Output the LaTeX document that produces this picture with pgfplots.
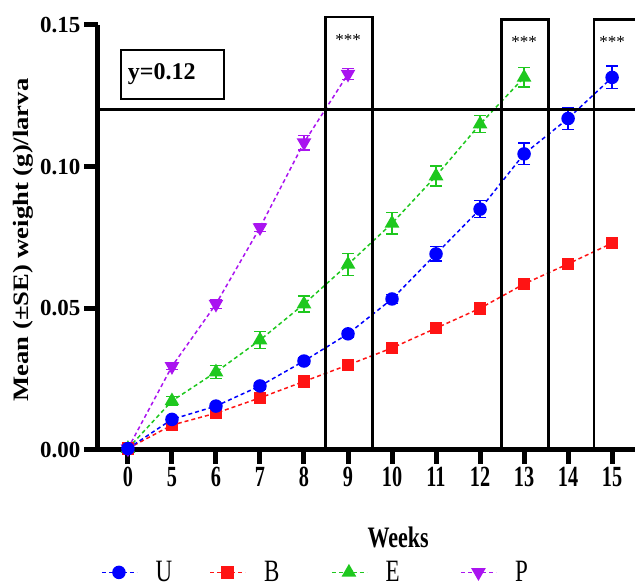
\documentclass[border=0pt]{standalone}
\usepackage{pgfplots}
\pgfplotsset{compat=1.18}
\usepackage{fontspec}
\setmainfont{Liberation Serif}
\usetikzlibrary{calc}

\definecolor{cU}{RGB}{0,0,255}
\definecolor{cB}{RGB}{255,20,20}
\definecolor{cE}{RGB}{30,200,30}
\definecolor{cP}{RGB}{170,20,240}

\newcommand{\xt}[1]{\scalebox{0.92}[1.33]{\textbf{#1}}}
\newcommand{\lt}[2]{\makebox[#1][l]{\scalebox{1}[1.35]{#2}}}

\pgfplotstableread{
x y e
0 0.0005 0.0003
1 0.0108 0.0010
2 0.0155 0.0010
3 0.0226 0.0012
4 0.0314 0.0012
5 0.0410 0.0012
6 0.0533 0.0015
7 0.0692 0.0025
8 0.0850 0.0030
9 0.1045 0.0038
10 0.1170 0.0040
11 0.1315 0.0040
}\dataU
\pgfplotstableread{
x y e
0 0.0005 0.0002
1 0.0088 0.0008
2 0.0130 0.0008
3 0.0184 0.0008
4 0.0242 0.0008
5 0.0300 0.0008
6 0.0360 0.0008
7 0.0430 0.0008
8 0.0500 0.0008
9 0.0586 0.0008
10 0.0657 0.0008
11 0.0730 0.0010
}\dataB
\pgfplotstableread{
x y e
0 0.0005 0.0002
1 0.0173 0.0015
2 0.0275 0.0022
3 0.0388 0.0030
4 0.0515 0.0028
5 0.0655 0.0038
6 0.0800 0.0038
7 0.0967 0.0035
8 0.1150 0.0030
9 0.1315 0.0034
}\dataE
\pgfplotstableread{
x y e
0 0.0005 0.0002
1 0.0295 0.0012
2 0.0515 0.0015
3 0.0785 0.0015
4 0.1085 0.0026
5 0.1327 0.0020
}\dataP

\begin{document}
\begin{tikzpicture}
\begin{axis}[
    width=537pt, height=425pt, scale only axis,
    xmin=-0.68, xmax=11.52, ymin=0, ymax=0.15,
    axis lines=left,
    axis line style={line width=5pt, -},
    clip=false,
    xtick={0,...,11},
    xticklabels={\xt{0},\xt{5},\xt{6},\xt{7},\xt{8},\xt{9},\xt{10},\xt{11},\xt{12},\xt{13},\xt{14},\xt{15}},
    ytick={0,0.05,0.10,0.15},
    yticklabels={\textbf{0.00},\textbf{0.05},\textbf{0.10},\textbf{0.15}},
    tick align=outside,
    major tick length=14pt,
    tick style={line width=5pt, black},
    xticklabel style={font=\fontsize{22}{24}\selectfont},
    yticklabel style={font=\fontsize{23}{26}\selectfont},
    xlabel={\scalebox{1}[1.35]{\textbf{Weeks}}},
    xlabel style={font=\fontsize{22}{24}\selectfont, at={(axis description cs:0.559,-0.205)}, anchor=center},
    ylabel={\scalebox{1.21}[1]{\textbf{Mean (±SE) weight (g)/larva}}},
    ylabel style={font=\fontsize{22}{24}\selectfont, at={(axis description cs:-0.14,0.494)}, anchor=center},
    legend columns=4,
    reverse legend,
    legend style={draw=none, fill=none, font=\fontsize{23}{26}\selectfont,
        at={(axis description cs:0.0,-0.288)}, anchor=west,
        /tikz/every odd column/.append style={column sep=16pt},
        /tikz/every even column/.append style={column sep=10pt}},
    legend image code/.code={\draw[mark repeat=2,mark phase=2,#1] plot coordinates {(0pt,0pt) (17pt,0pt) (35pt,0pt)};},
    every axis plot/.append style={line width=1.5pt, dash pattern=on 4pt off 3pt},
    error bars/error bar style={solid, line width=1.3pt},
    error bars/error mark options={solid, rotate=90, mark size=6pt, line width=1.3pt},
]
\addplot[color=cP, mark=triangle*, mark size=7pt, mark options={solid, rotate=180},
    error bars/.cd, y dir=both, y explicit] table[x=x, y=y, y error=e] {\dataP};
\addlegendentry{\lt{20pt}{P}}
\addplot[color=cE, mark=triangle*, mark size=7pt, mark options={solid},
    error bars/.cd, y dir=both, y explicit] table[x=x, y=y, y error=e] {\dataE};
\addlegendentry{\lt{63pt}{E}}
\addplot[color=cB, mark=square*, mark size=5.5pt, mark options={solid},
    error bars/.cd, y dir=both, y explicit] table[x=x, y=y, y error=e] {\dataB};
\addlegendentry{\lt{55pt}{B}}
\addplot[color=cU, mark=*, mark size=6pt, mark options={solid},
    error bars/.cd, y dir=both, y explicit] table[x=x, y=y, y error=e] {\dataU};
\addlegendentry{\lt{42pt}{U}}

% reference line and boxes
\draw[line width=3pt] (axis cs:-0.68,0.12) -- (axis cs:11.52,0.12);
\draw[line width=2.5pt] (axis cs:-0.16,0.1239) rectangle (axis cs:2.18,0.1412);
\node[font=\fontsize{24}{26}\selectfont\bfseries] at (axis cs:0.77,0.1325) {y=0.12};
\draw[line width=2.8pt] (axis cs:4.48,0) rectangle (axis cs:5.55,0.1528);
\draw[line width=2.8pt] (axis cs:8.48,0) rectangle (axis cs:9.55,0.1518);
\draw[line width=2.8pt] (axis cs:11.52,0.1518) -- (axis cs:10.59,0.1518) -- (axis cs:10.59,0);
\node[font=\fontsize{17}{19}\selectfont] at (axis cs:5,0.1447) {***};
\node[font=\fontsize{17}{19}\selectfont] at (axis cs:9,0.1440) {***};
\node[font=\fontsize{17}{19}\selectfont] at (axis cs:11,0.1440) {***};
\coordinate (bl) at (rel axis cs:0,0);
\end{axis}
\pgfresetboundingbox
\path[use as bounding box] ($(bl)+(-98pt,-138pt)$) rectangle ($(bl)+(537pt,450pt)$);
\end{tikzpicture}
\end{document}
